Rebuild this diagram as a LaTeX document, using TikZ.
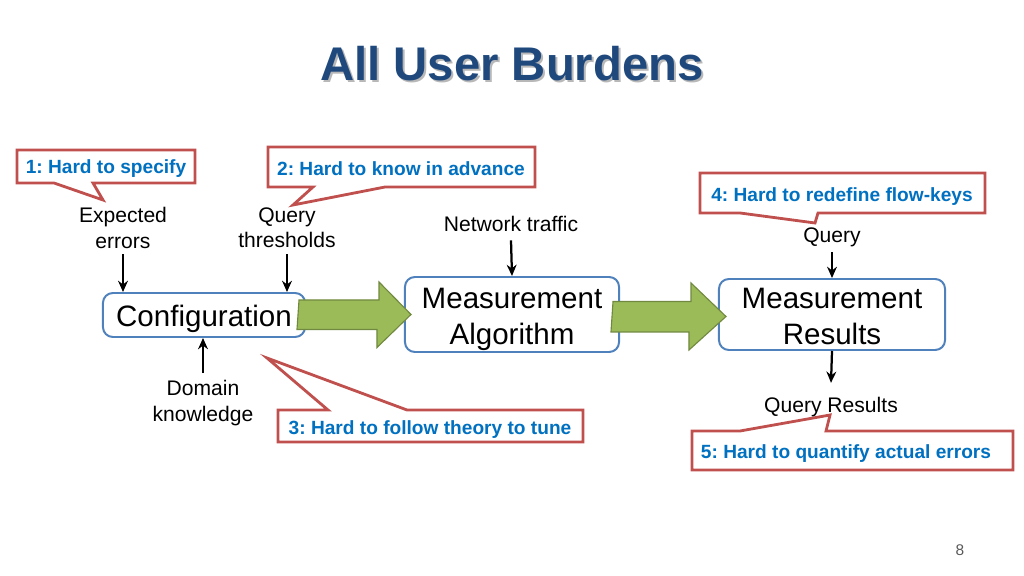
\documentclass[tikz,border=0pt]{standalone}
\usepackage{fontspec}
\setmainfont{Liberation Sans}
\usetikzlibrary{arrows.meta,calc}
\frenchspacing

\definecolor{titleblue}{RGB}{31,73,125}
\definecolor{burdenred}{RGB}{192,80,77}
\definecolor{burdenblue}{RGB}{0,112,192}
\definecolor{stageblue}{RGB}{79,129,189}
\definecolor{flowgreen}{RGB}{155,187,89}
\definecolor{flowedge}{RGB}{113,137,63}

\tikzset{
  stage/.style={draw=stageblue, line width=1.4pt, rounded corners=7pt, fill=white, inner sep=0pt},
  stagetext/.style={align=center, inner sep=0pt, font=\fontsize{21}{25.6}\selectfont},
  input/.style={align=center, inner sep=1pt, font=\fontsize{15}{18}\selectfont},
  burden/.style={inner sep=0pt, text height=0.72em, text depth=0pt, text=burdenblue,
    font=\bfseries\fontsize{13.6}{16}\selectfont},
  bubble/.style={draw=burdenred, line width=2pt, fill=white},
  flow/.style={draw=flowedge, line width=0.8pt, fill=flowgreen},
  feed/.style={->, line width=1.6pt},
}

\begin{document}
\begin{tikzpicture}[x=0.025cm,y=-0.025cm,>={Stealth[length=8pt,width=7pt]}]
    \useasboundingbox (0,0) rectangle (1024,576);
    % title
    \node[text=black!28, font=\bfseries\fontsize{33.6}{40}\selectfont] (shadow) at (514,66) {All User Burdens};
    \node[text=titleblue, font=\bfseries\fontsize{33.6}{40}\selectfont] (title) at (512,64) {All User Burdens};

    % burdens
    \draw[bubble] (17,150) -- (195,150) -- (195,183) -- (93,183) -- (103,200) -- (54,183) -- (17,183) -- cycle;
    \node[burden] (b1) at (106,168.5) {1: Hard to specify};
    \draw[bubble] (268,147) -- (535,147) -- (535,187) -- (385,187) -- (293,205) -- (313,187) -- (268,187) -- cycle;
    \node[burden] (b2) at (401,170) {2: Hard to know in advance};
    \draw[bubble] (278,410) -- (328,410) -- (267,358) -- (407,410) -- (583,410) -- (583,442) -- (278,442) -- cycle;
    \node[burden] (b3) at (430,429) {3: Hard to follow theory to tune};
    \draw[bubble] (700,173) -- (985,173) -- (985,213) -- (818,213) -- (815,223) -- (740,213) -- (700,213) -- cycle;
    \node[burden] (b4) at (842,196) {4: Hard to redefine flow-keys};
    \draw[bubble] (692,431) -- (740,431) -- (830,415) -- (826,431) -- (1013,431) -- (1013,470) -- (692,470) -- cycle;
    \node[burden] (b5) at (846,453) {5: Hard to quantify actual errors};

    % stages
    \node[stage, minimum width=5.05cm, minimum height=1.1cm] (conf) at (204,315) {};
    \node[stagetext] (conftext) at ($(conf.center)+(0,4)$) {Configuration};
    \node[stage, minimum width=5.35cm, minimum height=1.875cm] (algo) at (512,314.5) {};
    \node[stagetext] (algotext) at ($(algo.center)+(0,4.5)$) {Measurement\\Algorithm};
    \node[stage, minimum width=5.65cm, minimum height=1.775cm] (res) at (832,314.5) {};
    \node[stagetext] (restext) at ($(res.center)+(0,1.5)$) {Measurement\\Results};

    % inputs and outputs
    \node[input] (errs) at (123,228) {Expected\\errors};
    \node[input] (thresh) at (287,228) {Query\\thresholds};
    \node[input] (traffic) at (511,224) {Network traffic};
    \node[input] (query) at (832,237) {Query};
    \node[input] (domain) at (203,403) {Domain\\knowledge};
    \node[input] (qres) at (831,407) {Query Results};

    \draw[feed] ([yshift=-3pt]errs.south) -- (errs.south |- conf.north);
    \draw[feed] ([yshift=-3pt]thresh.south) -- (thresh.south |- conf.north);
    \draw[feed] ([yshift=-5pt]traffic.south) -- (algo.north);
    \draw[feed] ([yshift=-3pt]query.south) -- (res.north);
    \draw[feed] ([yshift=4pt]domain.north) -- (domain.north |- conf.south);
    \draw[feed] (res.south) -- ([yshift=9pt]qres.north);

    % block arrows
    \draw[flow] ($(conf.east)+(-7,-15)$) -- ++(80,0) -- ++(0,-18) -- ($(algo.west)+(7,0)$)
        -- ++(-34,33) -- ++(0,-18) -- ++(-80,0) -- cycle;
    \draw[flow] ($(algo.east)+(-7,-13)$) -- ++(78,0) -- ++(0,-18.5) -- ($(res.west)+(8,2)$)
        -- ++(-37,33.5) -- ++(0,-18) -- ++(-78,0) -- cycle;

    \node[text=black!65, font=\fontsize{11}{13}\selectfont] (page) at (960,550) {8};
\end{tikzpicture}
\end{document}
